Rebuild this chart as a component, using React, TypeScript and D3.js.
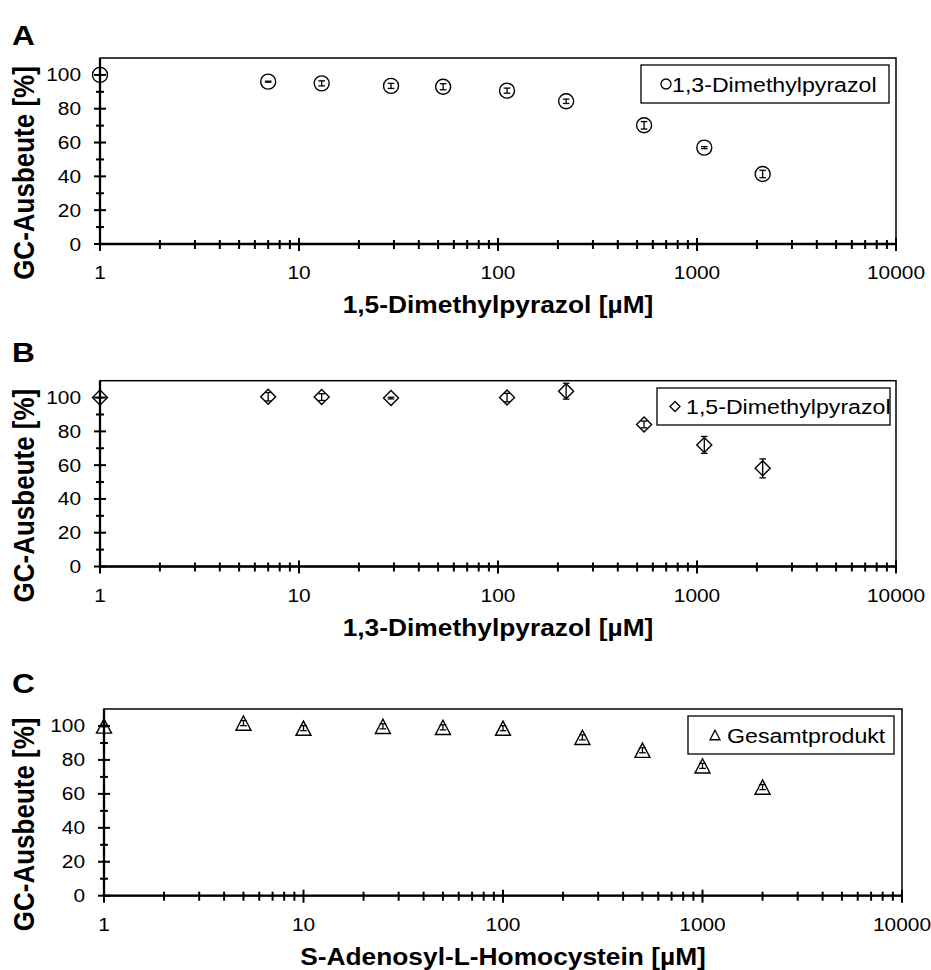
import React from "react";
import * as d3 from "d3";

// panel A: 1,3-Dimethylpyrazol vs 1,5-Dimethylpyrazol conc.
const concA = [1, 7, 13, 29, 53, 111, 220, 542, 1088, 2138];
const yieldA = [100, 96, 95, 93.5, 93, 90.7, 84.4, 70.2, 57, 41.4];
const errA = [0, 0.3, 1.5, 1.5, 1.8, 1.5, 1.3, 2.2, 0.6, 2.2];

// panel B: 1,5-Dimethylpyrazol vs 1,3-Dimethylpyrazol conc.
const concB = [1, 7, 13, 29, 111, 220, 542, 1088, 2138];
const yieldB = [100, 100.5, 100.3, 99.7, 100, 103.8, 84.1, 72, 58.1];
const errB = [0, 2.5, 2, 0.5, 2.5, 4.7, 2, 5, 5.6];

// panel C: Gesamtprodukt vs SAH conc.
const concC = [1, 5, 10, 25, 50, 100, 250, 500, 1000, 2000];
const yieldC = [100, 101.7, 98.7, 99.8, 99.2, 98.7, 93.3, 85.7, 76.5, 64];
const errC = [0.5, 1.5, 1.5, 1.5, 1.5, 1.5, 1.5, 1.5, 1.5, 1.5];

const xTickValues = [1, 10, 100, 1000, 10000];
const yTickValues = [0, 20, 40, 60, 80, 100];
const yTitle = "GC-Ausbeute [%]";

const FONT = "'Liberation Sans', Arial, Helvetica, sans-serif";
const SX = 1.13; // text in the source is a little wide

type Marker = "circle" | "diamond" | "triangle";

const panels = [
  {
    letter: "A", conc: concA, vals: yieldA, errs: errA, marker: "circle" as Marker,
    series: "1,3-Dimethylpyrazol", xTitle: "1,5-Dimethylpyrazol [µM]",
    left: 100, right: 896, top: 58, bottom: 244, letterY: 45,
    legend: { x: 641, y: 65, w: 248, h: 38, sym: 666, text: 672 },
  },
  {
    letter: "B", conc: concB, vals: yieldB, errs: errB, marker: "diamond" as Marker,
    series: "1,5-Dimethylpyrazol", xTitle: "1,3-Dimethylpyrazol [µM]",
    left: 100, right: 896, top: 380.7, bottom: 566.5, letterY: 362,
    legend: { x: 657, y: 388, w: 233, h: 37, sym: 675, text: 686 },
  },
  {
    letter: "C", conc: concC, vals: yieldC, errs: errC, marker: "triangle" as Marker,
    series: "Gesamtprodukt", xTitle: "S-Adenosyl-L-Homocystein [µM]",
    left: 104, right: 902, top: 709, bottom: 895.7, letterY: 693,
    legend: { x: 688, y: 716, w: 206, h: 38, sym: 715, text: 727 },
  },
];

function markerPath(m: Marker, s: number) {
  if (m === "circle") return d3.symbol(d3.symbolCircle, Math.PI * s * s)()!;
  if (m === "diamond") return `M0,${-s}L${s},0L0,${s}L${-s},0Z`;
  const h = s * 1.9;
  return `M0,${-h / 2}L${s},${h / 2}L${-s},${h / 2}Z`;
}

function Panel({ p }: { p: (typeof panels)[number] }) {
  const x = d3.scaleLog().domain([1, 10000]).range([p.left, p.right]);
  const y = d3.scaleLinear().domain([0, 110]).range([p.bottom, p.top]);
  const minorX: number[] = [];
  for (let d = 1; d < 10000; d *= 10) for (let k = 2; k <= 9; k++) minorX.push(d * k);
  const minorY = d3.range(10, 110, 20);
  const lw = 2.3;

  return (
    <g>
      <text transform={`translate(12,${p.letterY}) scale(${SX},1)`} fontSize={28} fontWeight="bold" fontFamily={FONT}>
        {p.letter}
      </text>
      {/* frame */}
      <rect x={p.left} y={p.top} width={p.right - p.left} height={p.bottom - p.top} fill="none" stroke="#000" strokeWidth={1.5} />
      <line x1={p.left} x2={p.right} y1={p.bottom} y2={p.bottom} stroke="#000" strokeWidth={lw} />
      <line x1={p.left} x2={p.left} y1={p.top} y2={p.bottom} stroke="#000" strokeWidth={lw} />
      {/* y ticks */}
      {yTickValues.map((v) => (
        <g key={"yt" + v}>
          <line x1={p.left - 6} x2={p.left + 6} y1={y(v)} y2={y(v)} stroke="#000" strokeWidth={2} />
          <text transform={`translate(${p.left - 19},${y(v) + 6.5}) scale(${SX},1)`} textAnchor="end" fontSize={18.5} fontFamily={FONT}>
            {v}
          </text>
        </g>
      ))}
      {minorY.map((v) => (
        <line key={"ym" + v} x1={p.left - 4} x2={p.left + 4} y1={y(v)} y2={y(v)} stroke="#000" strokeWidth={2} />
      ))}
      {/* x ticks */}
      {xTickValues.map((v) => (
        <g key={"xt" + v}>
          <line x1={x(v)} x2={x(v)} y1={p.bottom - 6} y2={p.bottom + 7} stroke="#000" strokeWidth={2} />
          <text transform={`translate(${x(v)},${p.bottom + 35}) scale(${SX},1)`} textAnchor="middle" fontSize={18.5} fontFamily={FONT}>
            {v}
          </text>
        </g>
      ))}
      {minorX.map((v) => (
        <line key={"xm" + v} x1={x(v)} x2={x(v)} y1={p.bottom - 4} y2={p.bottom + 5} stroke="#000" strokeWidth={2} />
      ))}
      {/* titles */}
      <text transform={`translate(${(p.left + p.right) / 2},${p.bottom + 69}) scale(${SX},1)`} textAnchor="middle" fontSize={23.3} fontWeight="bold" fontFamily={FONT}>
        {p.xTitle}
      </text>
      <text transform={`translate(34,${(p.top + p.bottom) / 2 + 22}) scale(${SX},1) rotate(-90)`} textAnchor="middle" fontSize={26} fontWeight="bold" fontFamily={FONT}>
        {yTitle}
      </text>
      {/* markers */}
      {p.conc.map((c, i) => (
        <path key={"m" + i} d={markerPath(p.marker, 7.5)} transform={`translate(${x(c)},${y(p.vals[i])})`} fill="none" stroke="#000" strokeWidth={1.4} />
      ))}
      {/* error bars */}
      {p.conc.map((c, i) => {
        const cx = x(c);
        const y0 = y(p.vals[i] - p.errs[i]);
        const y1 = y(p.vals[i] + p.errs[i]);
        return (
          <g key={"e" + i} stroke="#000" strokeWidth={1.3}>
            <line x1={cx} x2={cx} y1={y0} y2={y1} />
            <line x1={cx - 3.3} x2={cx + 3.3} y1={y0} y2={y0} />
            <line x1={cx - 3.3} x2={cx + 3.3} y1={y1} y2={y1} />
          </g>
        );
      })}
      {/* legend */}
      <rect x={p.legend.x} y={p.legend.y} width={p.legend.w} height={p.legend.h} fill="#fff" stroke="#000" strokeWidth={1.3} />
      <path d={markerPath(p.marker, 5)} transform={`translate(${p.legend.sym},${p.legend.y + p.legend.h / 2})`} fill="none" stroke="#000" strokeWidth={1.3} />
      <text transform={`translate(${p.legend.text},${p.legend.y + p.legend.h / 2 + 7.5}) scale(${SX},1)`} fontSize={20.5} fontFamily={FONT}>
        {p.series}
      </text>
    </g>
  );
}

export default function App() {
  return (
    <svg width={931} height={970} style={{ position: "absolute", left: 0, top: 0, background: "#fff" }}>
      {panels.map((p) => (
        <Panel key={p.letter} p={p} />
      ))}
    </svg>
  );
}
